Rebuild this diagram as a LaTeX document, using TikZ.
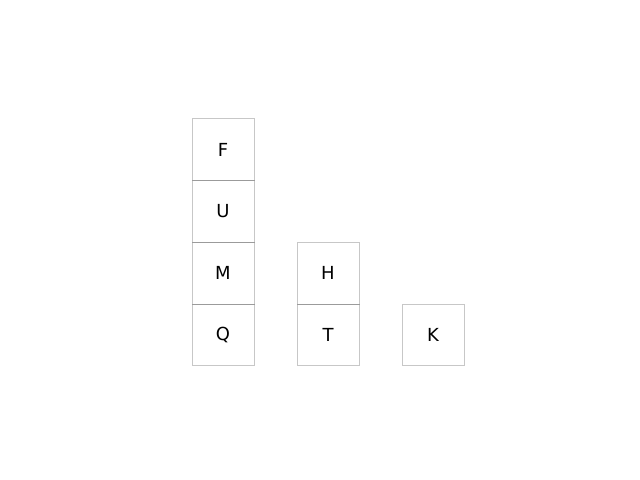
\documentclass[tikz,border=0pt]{standalone}
\usepackage{fontspec}
\setmainfont{DejaVu Sans}
\usetikzlibrary{positioning}

\begin{document}
\begin{tikzpicture}[
x=0.254mm, y=-0.254mm,
    cell/.style={draw=black, draw opacity=0.22, line width=0.7pt, rectangle, minimum width=15.75mm, minimum height=15.68mm, inner sep=0pt, outer sep=0pt, font=\fontsize{13}{15}\selectfont},
]
    \useasboundingbox (0,0) rectangle (640,480);

    % --- Left stack ---
    \node[cell] (q) at (223, 335) {Q};
    \node[cell, above=0pt of q] (m) {M};
    \node[cell, above=0pt of m] (u) {U};
    \node[cell, above=0pt of u] (f) {F};

    % --- Middle stack ---
    \node[cell] (t) at (328, 335) {T};
    \node[cell, above=0pt of t] (h) {H};

    % --- Right stack ---
    \node[cell] (k) at (433, 335) {K};

\end{tikzpicture}
\end{document}
